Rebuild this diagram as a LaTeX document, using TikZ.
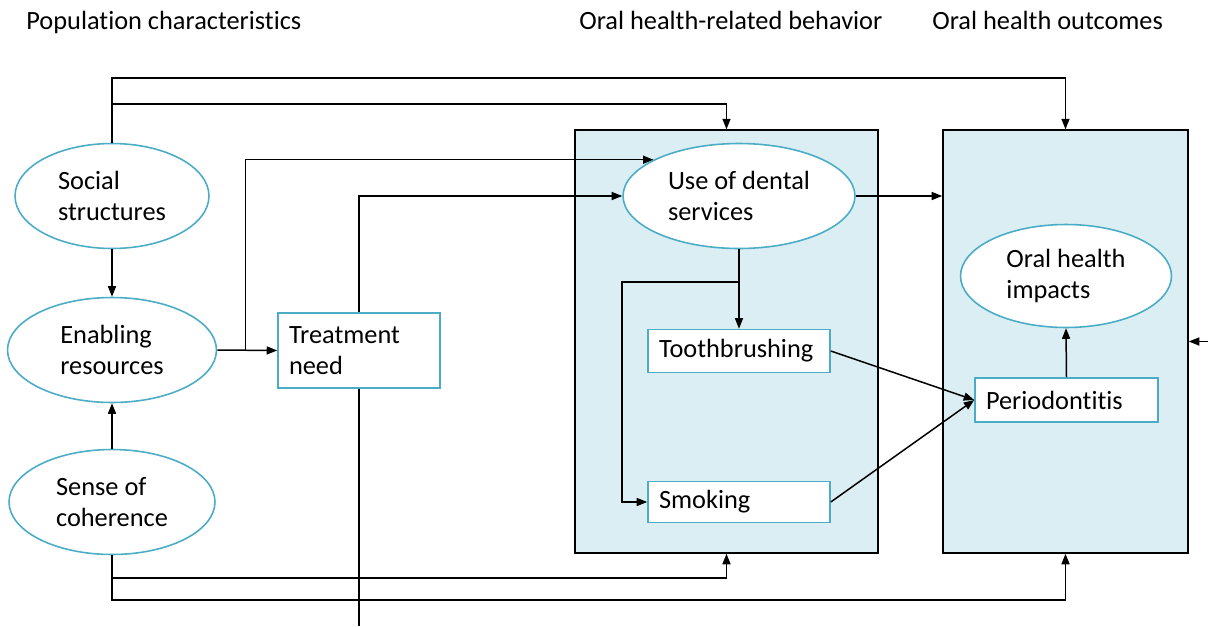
\documentclass[tikz,border=0pt]{standalone}
\usepackage{fontspec}
\setmainfont{Carlito}[Ligatures=NoCommon]
\usepackage{tikz}
\usetikzlibrary{arrows.meta,positioning,calc,shapes.geometric}
\definecolor{ink}{HTML}{000000}
\definecolor{rim}{HTML}{4BACC6}
\definecolor{panelfill}{HTML}{DAEEF3}
\tikzset{
  >={Triangle[length=2.1mm,width=1.6mm]},
  txt/.style={font=\fontsize{15}{17.6}\selectfont},
  oval/.style={ellipse,draw=rim,fill=white,line width=.9pt,inner sep=0pt,align=left,txt,minimum height=2.1cm},
  tag/.style={rectangle,draw=rim,fill=white,line width=.9pt,inner xsep=.22cm,inner ysep=0pt,align=left,txt},
  panel/.style={rectangle,draw=ink,fill=panelfill,line width=.9pt,minimum height=8.46cm},
  link/.style={->,line width=.85pt,color=ink},
  wire/.style={line width=.85pt,color=ink},
  title/.style={txt,anchor=base west,inner sep=0pt},
}
\begin{document}
\begin{tikzpicture}[x=0.02cm,y=-0.02cm]
  \useasboundingbox (0,0) rectangle (1208,626);
  % column headings
  \node[title] (hpop) at (26,29) {Population characteristics};
  \node[title] (hbeh) at (579,29) {Oral health-related behavior};
  \node[title] (hout) at (932,29) {Oral health outcomes};
  % panels
  \node[panel,minimum width=6.06cm] (beh) at (726.5,341.5) {};
  \node[panel,minimum width=4.9cm] (out) at (1065.5,341.5) {};
  % population side
  \node[oval,minimum width=3.88cm] (soc) at (112,196) {Social\\structures};
  \node[oval,minimum width=4.18cm] (ena) at (112,350) {Enabling\\resources};
  \node[oval,minimum width=4.12cm] (sen) at (112,502) {Sense of\\coherence};
  \node[tag,text width=2.8cm,minimum height=1.5cm] (tre) at (359,350.5) {Treatment\\need};
  % behaviour
  \node[oval,minimum width=4.64cm] (use) at (739,196) {Use of dental\\services};
  \node[tag,text width=3.2cm,minimum height=.86cm] (too) at (739,351) {Toothbrushing};
  \node[tag,text width=3.2cm,minimum height=.82cm] (smo) at (739,502) {Smoking};
  % outcomes
  \node[oval,minimum width=4.22cm,minimum height=2.06cm] (ohi) at (1066,276) {Oral health\\impacts};
  \node[tag,text width=3.22cm,minimum height=.88cm] (per) at (1066.5,400) {Periodontitis};
  % bend points
  \coordinate (topA) at (0,78);
  \coordinate (topB) at (0,104);
  \coordinate (botA) at (0,578);
  \coordinate (botB) at (0,600);
  \coordinate (bot) at (0,626);
  \coordinate (fork) at (739,282);
  \coordinate (rgt) at (1208,341.5);
  % connectors
  \draw[link] (soc.north) -- (soc.north |- topA) -| (out.north);
  \draw[link] (soc.north |- topB) -| (beh.north);
  \draw[link] (soc.south) -- (ena.north);
  \draw[link] (sen.north) -- (ena.south);
  \draw[link] (ena.east) -- (tre.west);
  \draw[link] (ena.east) ++(28,0) |- (use.157);
  \draw[link] (tre.north) |- (use.west);
  \draw[wire] (tre.south) -- (tre.south |- bot);
  \draw[link] (use.east) -- (use.east -| out.west);
  \draw[link] (use.south) -- (too.north);
  \draw[link] (fork) -- ++(-117,0) |- (smo.west);
  \draw[link] (too.east) -- (per.west);
  \draw[link] (smo.east) -- (per.west);
  \draw[link] (per.north) -- (ohi.south);
  \draw[link] (rgt) -- (out.east);
  \draw[link] (sen.south) -- (sen.south |- botB) -| (out.south);
  \draw[link] (sen.south |- botA) -| (beh.south);
\end{tikzpicture}
\end{document}
